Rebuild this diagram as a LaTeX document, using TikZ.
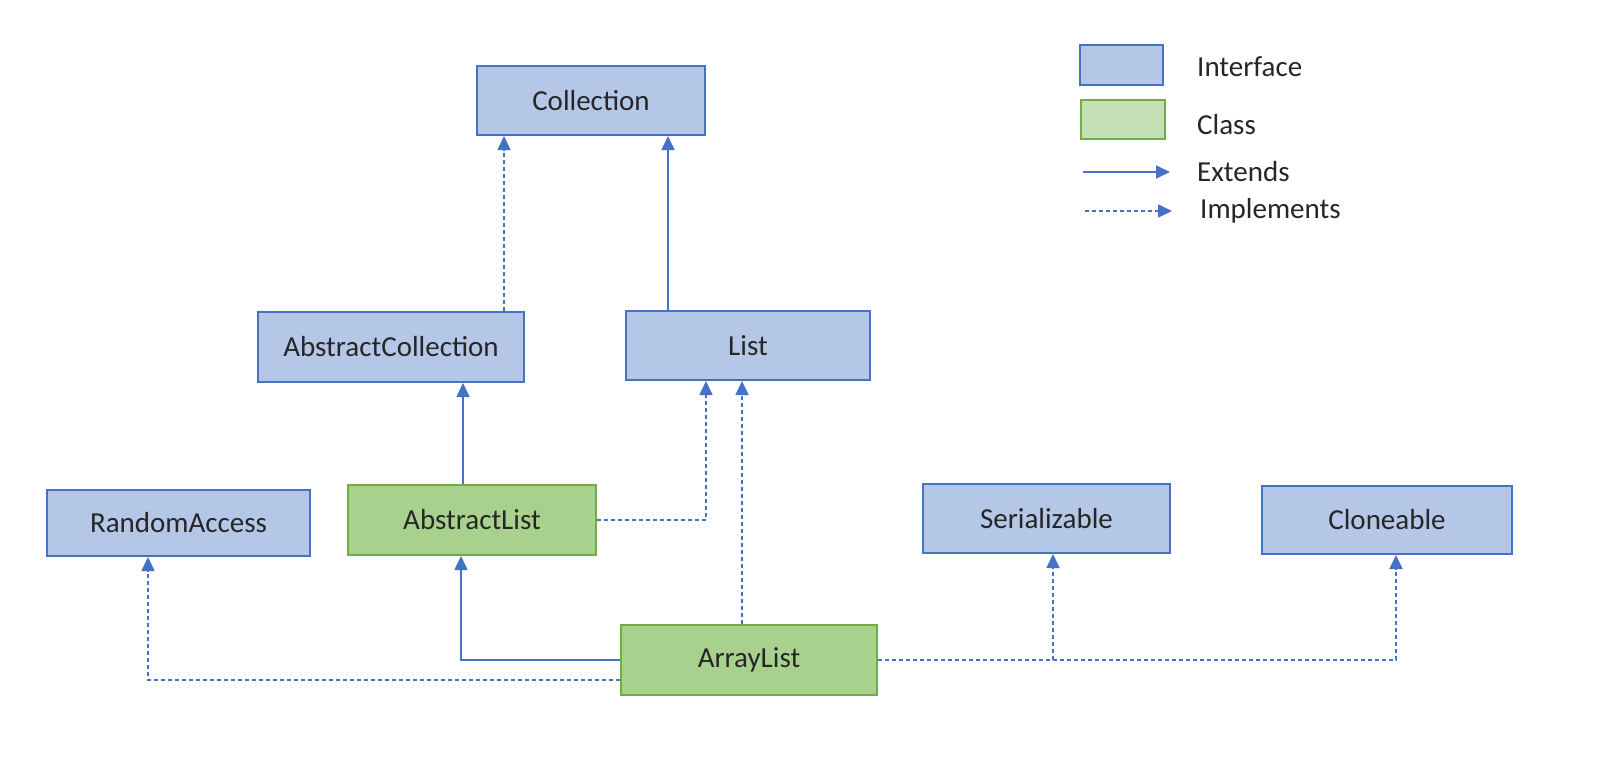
\documentclass[tikz,border=0pt]{standalone}
\usepackage{fontspec}
\setmainfont{Carlito}
\usetikzlibrary{arrows.meta}
\definecolor{ifill}{HTML}{B4C7E7}
\definecolor{iline}{HTML}{4472C4}
\definecolor{cfill}{HTML}{A9D18E}
\definecolor{cline}{HTML}{70AD47}
\definecolor{cfilll}{HTML}{C5E0B4}
\definecolor{txt}{HTML}{262626}
\definecolor{conn}{HTML}{4472C4}
\tikzset{
  box/.style={draw, line width=2pt, inner sep=0pt, anchor=center, text=txt,
    font=\fontsize{29}{33}\selectfont},
  iface/.style={box, fill=ifill, draw=iline},
  cls/.style={box, fill=cfill, draw=cline},
  ext/.style={draw=conn, line width=1.6pt, -{Triangle[length=14pt,width=13pt]}},
  impl/.style={draw=conn, line width=1.6pt, dash pattern=on 4pt off 3pt, -{Triangle[length=14pt,width=13pt]}},
  legtxt/.style={anchor=west, text=txt, inner sep=0pt, font=\fontsize{29}{33}\selectfont}
}
\begin{document}
\begin{tikzpicture}[x=1pt,y=-1pt]
\useasboundingbox[fill=white] (0,0) rectangle (1601,763);
% nodes
\node[iface, minimum width=228pt, minimum height=69pt] (coll) at (591,100.5) {Collection};
\node[iface, minimum width=266pt, minimum height=70pt] (acoll) at (391,347) {AbstractCollection};
\node[iface, minimum width=244pt, minimum height=69pt] (list) at (748,345.5) {List};
\node[iface, minimum width=263pt, minimum height=66pt] (ra) at (178.5,523) {RandomAccess};
\node[cls, minimum width=248pt, minimum height=70pt] (alist) at (472,520) {AbstractList};
\node[iface, minimum width=247pt, minimum height=69pt] (ser) at (1046.5,518.5) {Serializable};
\node[iface, minimum width=250pt, minimum height=68pt] (clo) at (1387,520) {Cloneable};
\node[cls, minimum width=256pt, minimum height=70pt] (arr) at (749,660) {ArrayList};
% connectors
\draw[impl] ([xshift=113pt]acoll.north) -- ([xshift=113pt]acoll.north |- coll.south);
\draw[ext] ([xshift=-80pt]list.north) -- ([xshift=-80pt]list.north |- coll.south);
\draw[ext] ([xshift=-9pt]alist.north) -- ([xshift=-9pt]alist.north |- acoll.south);
\draw[impl] (alist.east) -| ([xshift=-42pt]list.south);
\draw[impl] ([xshift=-7pt]arr.north) -- ([xshift=-7pt]arr.north |- list.south);
\draw[ext] (arr.west) -| ([xshift=-11pt]alist.south);
\draw[impl] ([yshift=-20pt]arr.west) -| ([xshift=-30.5pt]ra.south);
\draw[impl] (arr.east) -| ([xshift=6.5pt]ser.south);
\draw[impl] (arr.east) -| ([xshift=9pt]clo.south);
% legend
\node[iface, minimum width=83pt, minimum height=40pt] (lgi) at (1121.5,65) {};
\node[box, fill=cfilll, draw=cline, minimum width=84pt, minimum height=39pt] (lgc) at (1123,119.5) {};
\node[legtxt] (lti) at (1197,67) {Interface};
\node[legtxt] (ltc) at (1197,125) {Class};
\node[legtxt] (lte) at (1197,172) {Extends};
\node[legtxt] (ltm) at (1200,211) {Implements};
\coordinate (le1) at (1083,172);
\coordinate (le2) at (1170,172);
\coordinate (lm1) at (1085,211);
\coordinate (lm2) at (1172,211);
\draw[ext] (le1) -- (le2);
\draw[impl] (lm1) -- (lm2);
\end{tikzpicture}
\end{document}
